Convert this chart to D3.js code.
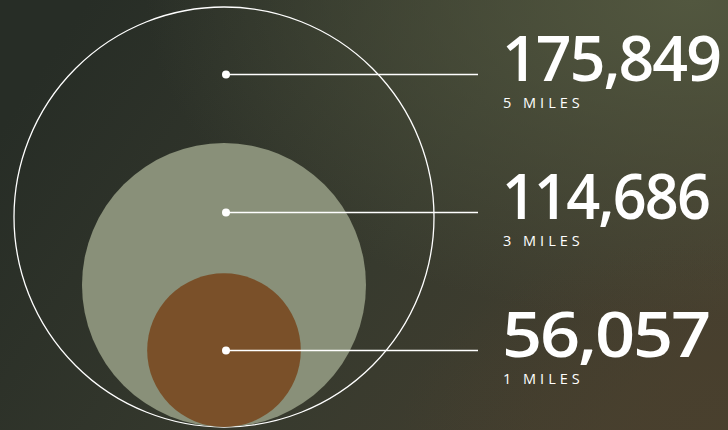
<!DOCTYPE html>
<html>
<head>
<meta charset="utf-8">
<script src="https://cdn.jsdelivr.net/npm/d3@7"></script>
<style>
  html, body { margin: 0; padding: 0; background: #2c322b; }
  svg { display: block; }
</style>
</head>
<body>
<div id="chart"></div>
<script>
// data
const populations = [175849, 114686, 56057];
const radii = ["5 MILES", "3 MILES", "1 MILES"];
const circleFills = ["none", "#899079", "#7a5029"];
const circleStrokes = ["#ffffff", "none", "none"];

const width = 728;
const height = 430;

const svg = d3.select("#chart").append("svg")
    .attr("width", width)
    .attr("height", height);

// background gradient
const defs = svg.append("defs");
const lin = defs.append("linearGradient")
    .attr("id", "bg")
    .attr("x1", "0%").attr("y1", "30%")
    .attr("x2", "100%").attr("y2", "70%");
lin.append("stop").attr("offset", "0%").attr("stop-color", "#272d26");
lin.append("stop").attr("offset", "55%").attr("stop-color", "#373a2e");
lin.append("stop").attr("offset", "100%").attr("stop-color", "#463f2f");

const topGlow = defs.append("radialGradient")
    .attr("id", "glow")
    .attr("cx", "95%").attr("cy", "0%").attr("r", "75%");
topGlow.append("stop").attr("offset", "0%").attr("stop-color", "#52573f").attr("stop-opacity", 1);
topGlow.append("stop").attr("offset", "100%").attr("stop-color", "#52573f").attr("stop-opacity", 0);

const brownGlow = defs.append("radialGradient")
    .attr("id", "brown")
    .attr("cx", "100%").attr("cy", "100%").attr("r", "45%");
brownGlow.append("stop").attr("offset", "0%").attr("stop-color", "#4a402d").attr("stop-opacity", 0.8);
brownGlow.append("stop").attr("offset", "100%").attr("stop-color", "#4a402d").attr("stop-opacity", 0);

svg.append("rect").attr("width", width).attr("height", height).attr("fill", "url(#bg)");
svg.append("rect").attr("width", width).attr("height", height).attr("fill", "url(#glow)");
svg.append("rect").attr("width", width).attr("height", height).attr("fill", "url(#brown)");

// circles share a bottom edge
const cx = 224;
const baseY = 427;
const r = d3.scaleLinear()
    .domain([0, d3.max(populations)])
    .range([14.5, 210]);

const dotY = d3.scalePoint()
    .domain(d3.range(populations.length))
    .range([74.6, 350.6]);

const items = populations.map((v, i) => ({ value: v, label: radii[i], i: i }));

svg.selectAll("circle.ring")
    .data(items)
    .join("circle")
    .attr("class", "ring")
    .attr("cx", cx)
    .attr("cy", d => baseY - r(d.value))
    .attr("r", d => r(d.value))
    .attr("fill", d => circleFills[d.i])
    .attr("stroke", d => circleStrokes[d.i])
    .attr("stroke-width", 1.3);

// leader lines
const lineEnd = 478;
svg.selectAll("line.leader")
    .data(items)
    .join("line")
    .attr("class", "leader")
    .attr("x1", cx + 2)
    .attr("x2", lineEnd)
    .attr("y1", d => dotY(d.i))
    .attr("y2", d => dotY(d.i))
    .attr("stroke", "#ffffff")
    .attr("stroke-width", 1.5);

svg.selectAll("circle.dot")
    .data(items)
    .join("circle")
    .attr("class", "dot")
    .attr("cx", cx + 2)
    .attr("cy", d => dotY(d.i))
    .attr("r", 4)
    .attr("fill", "#ffffff");

// labels
const fmt = d3.format(",");
const textX = 502;

svg.selectAll("text.num")
    .data(items)
    .join("text")
    .attr("class", "num")
    .attr("x", textX)
    .attr("y", d => dotY(d.i) + 6)
    .attr("font-family", "'Open Sans', sans-serif")
    .attr("font-weight", 600)
    .attr("font-size", 64)
    .attr("letter-spacing", -2)
    .attr("fill", "#ffffff")
    .attr("textLength", d => d.i === 0 ? 218 : 207)
    .attr("lengthAdjust", "spacingAndGlyphs")
    .text(d => fmt(d.value));

svg.selectAll("text.miles")
    .data(items)
    .join("text")
    .attr("class", "miles")
    .attr("x", textX + 1)
    .attr("y", d => dotY(d.i) + 33)
    .attr("font-family", "'Open Sans', sans-serif")
    .attr("font-weight", 500)
    .attr("font-size", 14.5)
    .attr("letter-spacing", 4)
    .attr("fill", "#ffffff")
    .text(d => d.label);
</script>
</body>
</html>
